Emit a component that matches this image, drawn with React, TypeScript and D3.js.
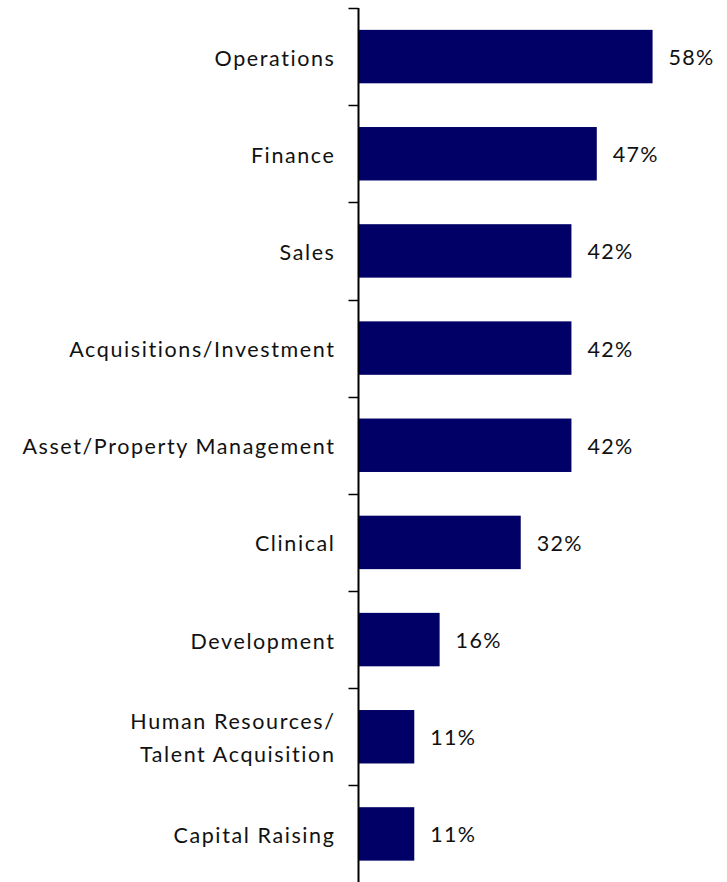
import React from "react";
import * as d3 from "d3";

const categories = [
  "Operations",
  "Finance",
  "Sales",
  "Acquisitions/Investment",
  "Asset/Property Management",
  "Clinical",
  "Development",
  "Human Resources/|Talent Acquisition",
  "Capital Raising",
];
const values = [58, 47, 42, 42, 42, 32, 16, 11, 11];

const W = 727;
const H = 882;
const axisX = 358.5;
const top = 8;
const bottom = 882;
const pxPerPct = 5.07;
const font = "Lato, 'Open Sans', sans-serif";
const barColor = "#000066";

export default function App() {
  const y = d3
    .scaleBand<string>()
    .domain(categories)
    .range([top, bottom + 0.5])
    .paddingInner(0.45)
    .paddingOuter(0.225);
  const x = d3.scaleLinear().domain([0, 100]).range([axisX, axisX + 100 * pxPerPct]);
  const step = y.step();
  const boundaries = d3.range(categories.length).map((i) => top + i * step);

  return (
    <svg
      width={W}
      height={H}
      style={{ position: "absolute", left: 0, top: 0, background: "#fff" }}
    >
      {categories.map((c, i) => {
        const y0 = y(c)!;
        const bw = y.bandwidth();
        const cy = y0 + bw / 2;
        const lines = c.split("|");
        return (
          <g key={c}>
            <rect
              x={x(0)}
              y={y0}
              width={x(values[i]) - x(0)}
              height={bw}
              fill={barColor}
            />
            <text
              x={x(values[i]) + 16}
              y={cy + 1}
              dy="0.35em"
              fontFamily={font}
              fontSize={21.5}
              letterSpacing={1.3}
              fill="#111"
            >
              {values[i]}%
            </text>
            {lines.map((l, j) => (
              <text
                key={j}
                x={335.5}
                y={cy + 1.5 + (j - (lines.length - 1) / 2) * 33}
                dy="0.35em"
                textAnchor="end"
                fontFamily={font}
                fontSize={21.5}
                letterSpacing={1.6}
                fill="#111"
              >
                {l}
              </text>
            ))}
          </g>
        );
      })}
      <line x1={axisX} x2={axisX} y1={top} y2={H} stroke="#000" strokeWidth={2} />
      {boundaries.map((b, i) => (
        <line
          key={i}
          x1={axisX - 10}
          x2={axisX}
          y1={Math.round(b) + 0.5}
          y2={Math.round(b) + 0.5}
          stroke="#000"
          strokeWidth={1.5}
        />
      ))}
    </svg>
  );
}
